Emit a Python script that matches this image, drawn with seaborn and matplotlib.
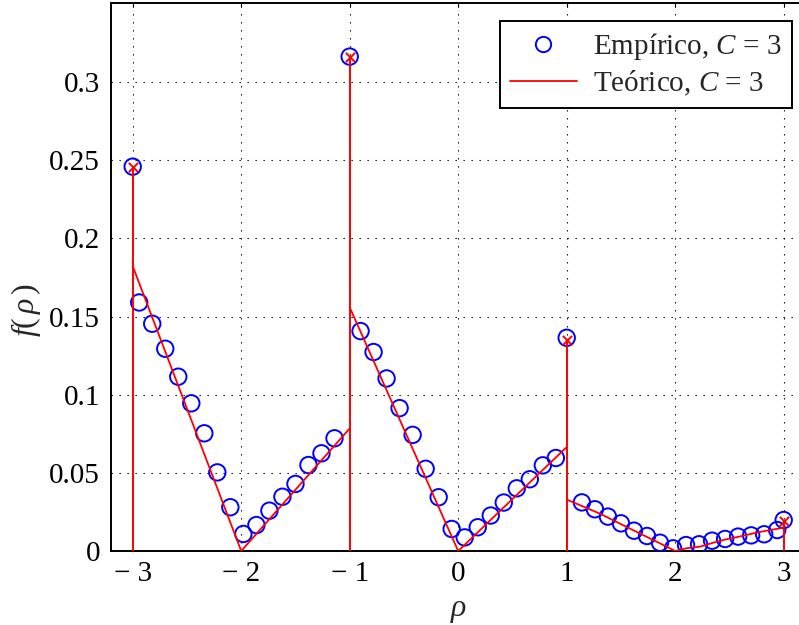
import matplotlib
matplotlib.use("Agg")
import matplotlib.pyplot as plt
from matplotlib.lines import Line2D
import seaborn as sns
import pandas as pd

# ---------------- data ----------------
# Empirical histogram (bin centres) for the continuous part
emp_x = [-2.94, -2.82, -2.70, -2.58, -2.46, -2.34, -2.22, -2.10, -1.98, -1.86,
         -1.74, -1.62, -1.50, -1.38, -1.26, -1.14,
         -0.90, -0.78, -0.66, -0.54, -0.42, -0.30, -0.18, -0.06, 0.06, 0.18,
         0.30, 0.42, 0.54, 0.66, 0.78, 0.90,
         1.14, 1.26, 1.38, 1.50, 1.62, 1.74, 1.86, 1.98, 2.10, 2.22,
         2.34, 2.46, 2.58, 2.70, 2.82, 2.94]
emp_y = [0.1590, 0.1454, 0.1294, 0.1115, 0.0945, 0.0753, 0.0503, 0.0280, 0.0109, 0.0166,
         0.0258, 0.0347, 0.0429, 0.0550, 0.0625, 0.0721,
         0.1407, 0.1273, 0.1104, 0.0914, 0.0743, 0.0526, 0.0344, 0.0141, 0.0087, 0.0152,
         0.0227, 0.0310, 0.0401, 0.0459, 0.0548, 0.0595,
         0.0311, 0.0267, 0.0220, 0.0177, 0.0130, 0.0096, 0.0053, 0.0017, 0.0038, 0.0043,
         0.0066, 0.0077, 0.0092, 0.0100, 0.0107, 0.0134]

# Point masses (empirical and theoretical)
spike_x = [-3, -1, 1, 3]
spike_emp = [0.2459, 0.3163, 0.1364, 0.0198]
spike_theo = [0.2455, 0.3160, 0.1350, 0.0195]

# Theoretical continuous density, piecewise segments
theo_segments = [
    ([-3.0, -2.0], [0.1823, 0.0]),
    ([-2.0, -1.0], [0.0, 0.0784]),
    ([-1.0, 0.0], [0.1559, 0.0]),
    ([0.0, 1.0], [0.0, 0.0665]),
    ([1.0, 1.30, 1.61, 1.86, 2.0, 2.10, 2.23, 2.35, 2.47, 2.59, 2.72, 2.84, 3.0],
     [0.0329, 0.0241, 0.0134, 0.0049, 0.0, 0.0017, 0.0028, 0.0053, 0.0075, 0.0092,
      0.0113, 0.0130, 0.0149]),
]

x_ticks = [-3, -2, -1, 0, 1, 2, 3]
x_tick_labels = ["\u2212 3", "\u2212 2", "\u2212 1", "0", "1", "2", "3"]
y_ticks = [0, 0.05, 0.1, 0.15, 0.2, 0.25, 0.3]
y_tick_labels = ["0", "0.05", "0.1", "0.15", "0.2", "0.25", "0.3"]

label_emp = "Empírico, $C$ = 3"
label_theo = "Teórico, $C$ = 3"

# ---------------- style ----------------
sns.set_style("white")
plt.rcParams["font.family"] = ["Liberation Serif", "DejaVu Serif"]
plt.rcParams["mathtext.fontset"] = "custom"
plt.rcParams["mathtext.rm"] = "Liberation Serif"
plt.rcParams["mathtext.it"] = "Liberation Serif:italic"
plt.rcParams["mathtext.bf"] = "Liberation Serif:bold"

fig = plt.figure(figsize=(7.99, 6.25), dpi=100)
ax = fig.add_axes([111 / 799, 74 / 625, 694.4 / 799, 548 / 625])
ax.set_axisbelow(True)

emp_df = pd.DataFrame({"x": emp_x + spike_x, "y": emp_y + spike_emp})
sns.scatterplot(data=emp_df, x="x", y="y", ax=ax, marker="o", s=140,
                facecolor="none", edgecolor=(0, 0, 1), linewidth=1.4, zorder=3)

for sx, sy in theo_segments:
    sns.lineplot(x=sx, y=sy, ax=ax, color=(1, 0, 0), linewidth=1.3,
                 sort=False, estimator=None, zorder=4)

ax.vlines(spike_x, 0, spike_theo, color=(1, 0, 0), linewidth=1.4, zorder=4)
sns.scatterplot(x=spike_x, y=spike_theo, ax=ax, marker="x", s=45,
                color=(1, 0, 0), linewidth=1.4, zorder=5)

ax.set_xlim(-3.2, 3.2)
ax.set_ylim(0, 0.3506)
ax.set_xticks(x_ticks)
ax.set_xticklabels(x_tick_labels)
ax.set_yticks(y_ticks)
ax.set_yticklabels(y_tick_labels)
ax.tick_params(axis="both", direction="in", length=3, width=0.8, labelsize=21,
               top=True, right=True, colors="black")
ax.tick_params(axis="x", pad=7)
ax.tick_params(axis="y", pad=8)

ax.grid(True, color="black", linestyle=(0, (1.2, 6)), linewidth=0.8)
for sp in ax.spines.values():
    sp.set_color("black")
    sp.set_linewidth(1.4)

ax.set_xlabel(r"$\rho$", fontsize=23)
ax.set_ylabel(r"$f(\,\rho\,)$", fontsize=23)
ax.xaxis.set_label_coords(0.5, -0.083)
ax.yaxis.set_label_coords(-0.098, 0.44)

handles = [
    Line2D([], [], linestyle="none", marker="o", markersize=11,
           markerfacecolor="none", markeredgecolor=(0, 0, 1), markeredgewidth=1.4),
    Line2D([], [], color=(1, 0, 0), linewidth=1.3),
]
leg = ax.legend(handles, [label_emp, label_theo], loc="upper right",
                bbox_to_anchor=((792 - 111) / 694.4, (551 - 21) / 548),
                fontsize=21, frameon=True, fancybox=False, framealpha=1,
                edgecolor="black", handlelength=2.3, borderpad=0.35,
                labelspacing=0.22, handletextpad=0.55, borderaxespad=0)
leg.get_frame().set_linewidth(1.4)

fig.savefig("out.png", dpi=100)
